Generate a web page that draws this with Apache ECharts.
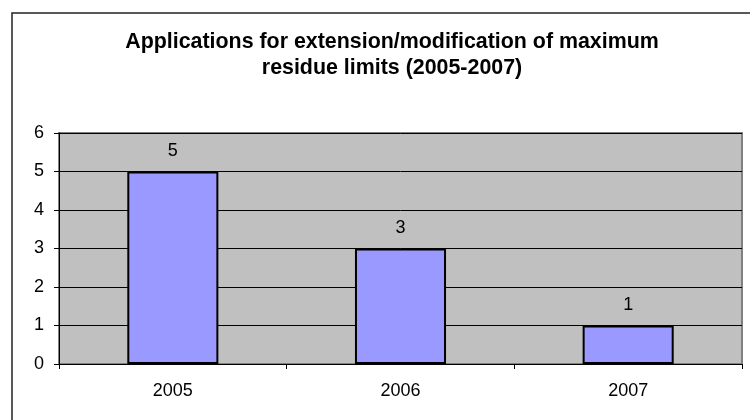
<!DOCTYPE html>
<html><head><meta charset="utf-8">
<script src="https://cdn.jsdelivr.net/npm/echarts@6/dist/echarts.min.js"></script>
<style>html,body{margin:0;padding:0;background:#fff}#c{width:750px;height:420px}</style>
</head><body><div id="c"></div>
<script>
var categories = ['2005', '2006', '2007'];
var values = [5, 3, 1];
var yTicks = [0, 1, 2, 3, 4, 5, 6];
var titleText = 'Applications for extension/modification of maximum\nresidue limits (2005-2007)';

var chart = echarts.init(document.getElementById('c'), null, {renderer: 'canvas'});
var font = 'Liberation Sans, Arial, sans-serif';
chart.setOption({
  animation: false,
  backgroundColor: '#fff',
  title: {
    text: titleText,
    left: 387, top: 24, textAlign: 'center',
    textStyle: {fontFamily: font, fontWeight: 'bold', fontSize: 21.4, lineHeight: 26, color: '#000'}
  },
  graphic: [{
    type: 'rect', silent: true, z: -1,
    shape: {x: 12, y: 13, width: 760, height: 430},
    style: {fill: 'none', stroke: '#222', lineWidth: 1.5}
  }],
  grid: {left: 59, right: 8, top: 133, bottom: 56, show: true, backgroundColor: '#C0C0C0', borderColor: '#808080', borderWidth: 2},
  xAxis: {
    type: 'category', data: categories,
    axisLine: {show: true, lineStyle: {color: '#000', width: 1}},
    axisTick: {show: true, alignWithLabel: false, length: 5, lineStyle: {color: '#000'}},
    axisLabel: {fontFamily: font, fontSize: 18, color: '#000', margin: 18},
    splitLine: {show: false}
  },
  yAxis: {
    type: 'value', min: yTicks[0], max: yTicks[yTicks.length - 1], interval: 1,
    axisLine: {show: true, lineStyle: {color: '#000', width: 1}},
    axisTick: {show: true, length: 5, lineStyle: {color: '#000'}},
    axisLabel: {fontFamily: font, fontSize: 18, color: '#000', margin: 15},
    splitLine: {show: true, lineStyle: {color: '#000', width: 1}}
  },
  series: [{
    type: 'bar', data: values, barWidth: '40%',
    itemStyle: {color: '#9999FF', borderColor: '#000', borderWidth: 2},
    label: {show: true, position: 'top', distance: 11, fontFamily: font, fontSize: 18, color: '#000'}
  }]
});
</script></body></html>
